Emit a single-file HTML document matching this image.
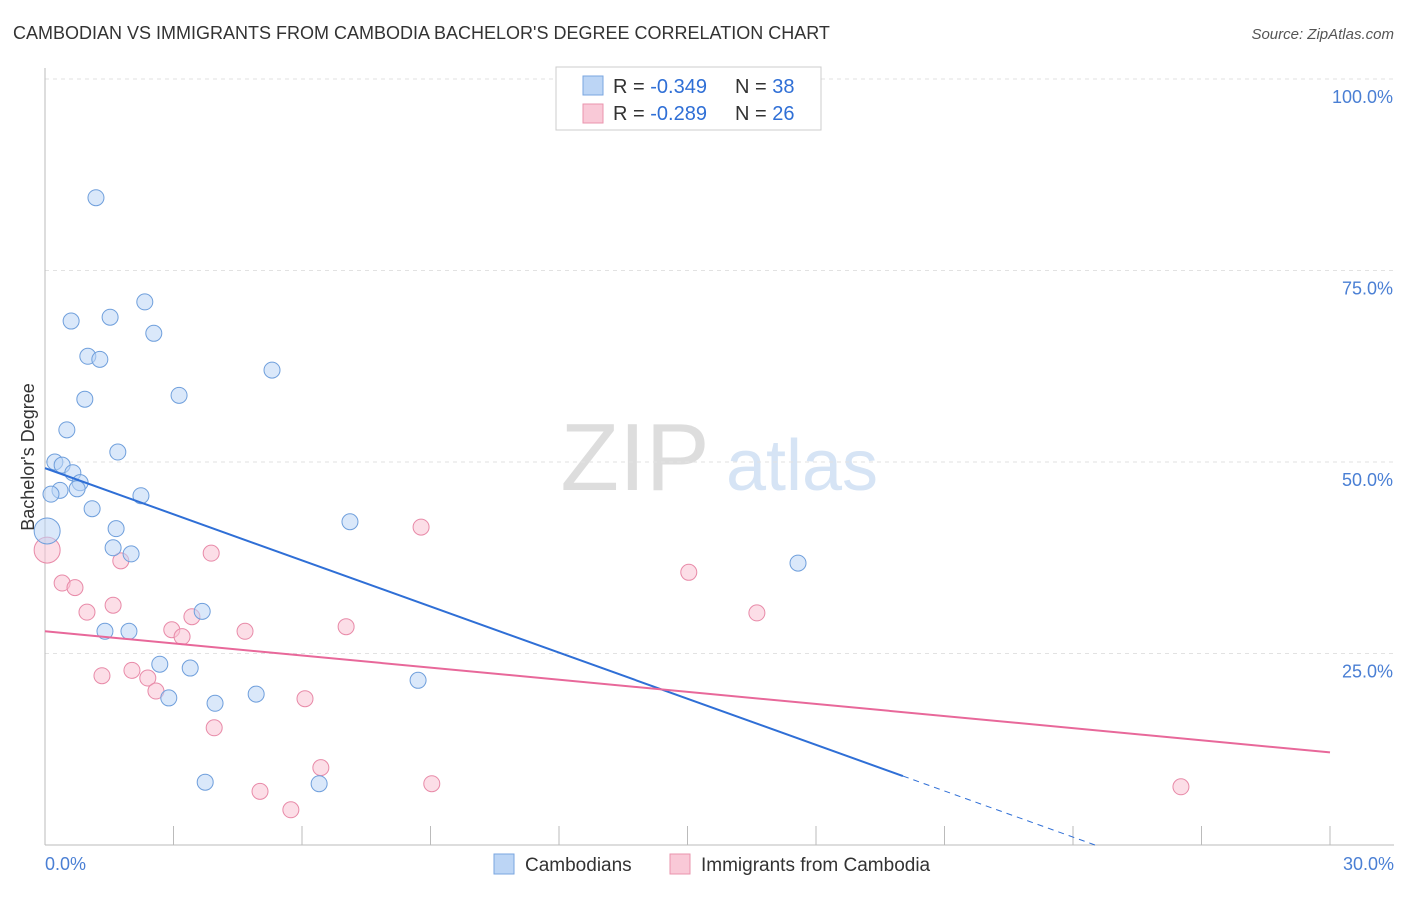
<!DOCTYPE html>
<html><head><meta charset="utf-8"><style>
body{margin:0;background:#fff;font-family:"Liberation Sans",sans-serif;}
svg text{font-family:"Liberation Sans",sans-serif;}
</style></head><body>
<svg id="chart" width="1406" height="892" viewBox="0 0 1406 892">
<text x="13" y="39" font-size="18" fill="#333">CAMBODIAN VS IMMIGRANTS FROM CAMBODIA BACHELOR'S DEGREE CORRELATION CHART</text>
<text x="1394" y="39" font-size="15" fill="#555" font-style="italic" text-anchor="end">Source: ZipAtlas.com</text>
<g>
<text x="635" y="490" font-size="96" fill="#ddd" font-family="Liberation Serif,serif" text-anchor="middle">ZIP</text>
<text x="802" y="490" font-size="72" fill="#d6e4f5" text-anchor="middle">atlas</text>
</g>
<g id="grid"></g><g id="axes"></g><g id="marks"></g>
<text transform="translate(34,457) rotate(-90)" font-size="18" fill="#333" text-anchor="middle">Bachelor's Degree</text>
<g>
<rect x="556" y="67" width="265" height="63" fill="#fff" stroke="#ccc"/>
<rect x="583" y="76" width="20" height="19" fill="#bcd5f5" stroke="#7aa6e0"/>
<rect x="583" y="104" width="20" height="19" fill="#f9c9d7" stroke="#ea94ae"/>
<text x="613" y="93" font-size="20" fill="#333">R = <tspan fill="#2f6fd6">-0.349</tspan><tspan x="735">N = </tspan><tspan fill="#2f6fd6">38</tspan></text>
<text x="613" y="120" font-size="20" fill="#333">R = <tspan fill="#2f6fd6">-0.289</tspan><tspan x="735">N = </tspan><tspan fill="#2f6fd6">26</tspan></text>
</g>
<g>
<rect x="494" y="854" width="20" height="20" fill="#bcd5f5" stroke="#7aa6e0"/>
<text x="525" y="871" font-size="19" fill="#333">Cambodians</text>
<rect x="670" y="854" width="20" height="20" fill="#f9c9d7" stroke="#ea94ae"/>
<text x="701" y="871" font-size="19" fill="#333">Immigrants from Cambodia</text>
</g>
</svg>
<script>
const yTicks=[25,50,75,100];
const yTickLabels=["25.0%","50.0%","75.0%","100.0%"];
const blueX=[1.19,2.33,0.61,1.52,2.54,1.00,1.28,5.30,0.93,3.13,0.51,1.70,0.23,0.40,0.65,0.82,0.35,0.75,0.14,2.24,1.10,7.12,1.66,0.05,1.59,2.01,17.58,3.67,1.40,1.96,2.68,3.39,2.89,3.97,4.93,8.71,3.74,6.40];
const blueY=[84.5,70.9,68.4,68.9,66.8,63.8,63.4,62.0,58.2,58.7,54.2,51.3,50.0,49.6,48.6,47.3,46.3,46.5,45.8,45.6,43.9,42.2,41.3,41.0,38.8,38.0,36.8,30.5,27.9,27.9,23.6,23.1,19.2,18.5,19.7,21.5,8.2,8.0];
const pinkX=[0.05,0.40,0.70,0.98,1.59,1.77,3.88,1.33,2.03,2.40,2.59,2.96,3.20,3.43,3.95,4.67,5.02,5.74,6.07,6.44,7.03,8.78,9.03,15.03,16.62,26.52];
const pinkY=[38.5,34.2,33.6,30.4,31.3,37.1,38.1,22.1,22.8,21.8,20.1,28.1,27.2,29.8,15.3,27.9,7.0,4.6,19.1,10.1,28.5,41.5,8.0,35.6,30.3,7.6];
const blueTrend=[49.2,-2.007];
const pinkTrend=[27.9,-0.527];
const NS="http://www.w3.org/2000/svg";
const X=v=>45+v/30*1285, Y=v=>845-v/100*766;
function mk(t,a,p){const e=document.createElementNS(NS,t);for(const k in a)e.setAttribute(k,a[k]);p.appendChild(e);return e;}
const grid=document.getElementById('grid'),axes=document.getElementById('axes'),marks=document.getElementById('marks');
yTicks.forEach((v,i)=>{
 const l=mk('line',{x1:45,x2:1394,y1:Y(v),y2:Y(v),stroke:'#e2e2e2','stroke-dasharray':'4,4'},grid);
 
 
 const t=mk('text',{x:1393,y:Y(v)+24,'font-size':18,fill:'#4a7fd4','text-anchor':'end'},axes);
 t.textContent=yTickLabels[i];
 
 
});
const ax=mk('line',{x1:45,x2:45,y1:68,y2:845,stroke:'#bbb'},axes);


const xa=mk('line',{x1:45,x2:1394,y1:845,y2:845,stroke:'#bbb'},axes);


for(let i=0;i<=10;i++){const t=mk('line',{x1:X(i*3),x2:X(i*3),y1:826,y2:845,stroke:'#bbb'},axes);
 
 }
[["0.0%",45,'start'],["30.0%",1394,'end']].forEach(d=>{const t=mk('text',{x:d[1],y:870,'font-size':18,fill:'#4a7fd4','text-anchor':d[2]},axes);t.textContent=d[0];
 
 });
function pts(xs,ys,fill,stroke,name){xs.forEach((x,i)=>{const r=(x<0.1)?13:8;
 const c=mk('circle',{cx:X(x),cy:Y(ys[i]),r:r,fill:fill,'fill-opacity':0.55,stroke:stroke,'stroke-width':1},marks);
 
 });}
pts(pinkX,pinkY,'#f9c3d3','#e88aa8','immigrant-point');
pts(blueX,blueY,'#bcd5f5','#6f9fdc','cambodian-point');
const bEnd=20.03, bZero=-blueTrend[0]/blueTrend[1];
const bl=mk('line',{x1:X(0),y1:Y(blueTrend[0]),x2:X(bEnd),y2:Y(blueTrend[0]+blueTrend[1]*bEnd),stroke:'#2f6fd6','stroke-width':2},marks);


const bd=mk('line',{x1:X(bEnd),y1:Y(blueTrend[0]+blueTrend[1]*bEnd),x2:X(bZero),y2:Y(0),stroke:'#2f6fd6','stroke-width':1,'stroke-dasharray':'6,5'},marks);


const pl=mk('line',{x1:X(0),y1:Y(pinkTrend[0]),x2:X(30),y2:Y(pinkTrend[0]+pinkTrend[1]*30),stroke:'#e8689a','stroke-width':2},marks);


</script>
</body></html>
